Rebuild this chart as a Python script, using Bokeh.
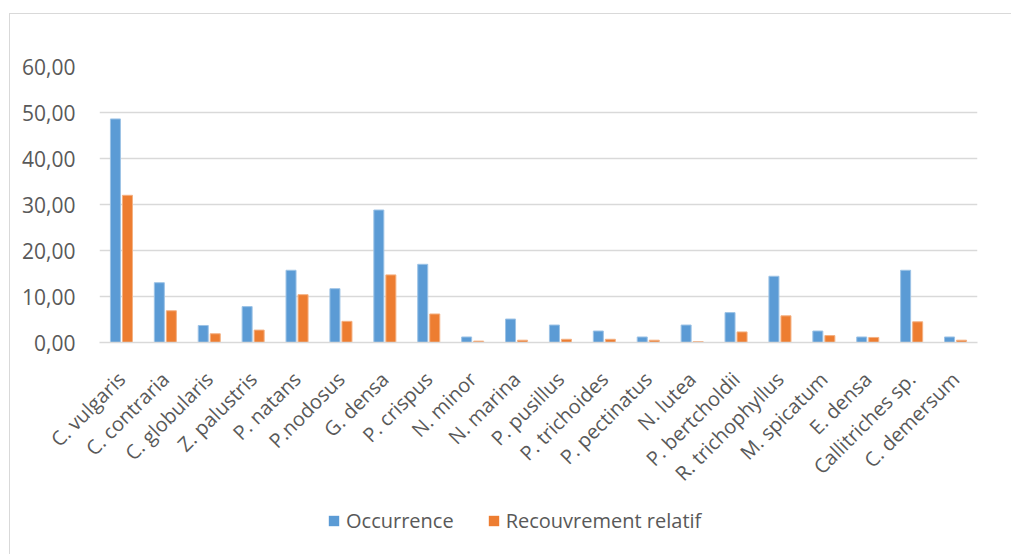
from bokeh.plotting import figure
from bokeh.models import FactorRange, Range1d, FixedTicker, Legend, LegendItem, ColumnDataSource
from bokeh.layouts import column
from bokeh.transform import dodge
from bokeh.embed import file_html
from bokeh.resources import INLINE
from math import pi

species = ["C. vulgaris", "C. contraria", "C. globularis", "Z. palustris", "P. natans",
           "P.nodosus", "G. densa", "P. crispus", "N. minor", "N. marina", "P. pusillus",
           "P. trichoides", "P. pectinatus", "N. lutea", "P. bertcholdii", "R. trichophyllus",
           "M. spicatum", "E. densa", "Callitriches sp.", "C. demersum"]
occurrence = [48.6, 13.0, 3.7, 7.8, 15.7, 11.7, 28.8, 17.0, 1.2, 5.1, 3.8, 2.5, 1.2, 3.8,
              6.5, 14.4, 2.5, 1.2, 15.7, 1.2]
recouvrement = [32.0, 6.9, 1.9, 2.7, 10.4, 4.6, 14.7, 6.2, 0.3, 0.5, 0.7, 0.7, 0.5, 0.2,
                2.3, 5.8, 1.5, 1.1, 4.5, 0.5]
series_names = ["Occurrence", "Recouvrement relatif"]
y_ticks = [0, 10, 20, 30, 40, 50, 60]
y_tick_labels = ["0,00", "10,00", "20,00", "30,00", "40,00", "50,00", "60,00"]

FONT = "Open Sans"
TXT = "#595959"
GRID = "#d9d9d9"
BLUE, BLUE_EDGE = "#5b9bd5", "#9dc3e6"
ORANGE, ORANGE_EDGE = "#ed7d31", "#f4b183"

p = figure(width=1001, height=485, x_range=FactorRange(*species, range_padding=0),
           y_range=Range1d(0, 60), output_backend="svg", toolbar_location=None,
           min_border_left=89, min_border_right=34, min_border_top=52, min_border_bottom=157)
p.outline_line_color = None

src = ColumnDataSource(dict(cat=species, occ=occurrence, rec=recouvrement))
p.vbar(x=dodge("cat", -0.137, range=p.x_range), top="occ", width=0.228, source=src,
       fill_color=BLUE, line_color=BLUE_EDGE, line_width=1)
p.vbar(x=dodge("cat", 0.137, range=p.x_range), top="rec", width=0.228, source=src,
       fill_color=ORANGE, line_color=ORANGE_EDGE, line_width=1)

p.xgrid.grid_line_color = None
p.ygrid.grid_line_color = GRID
p.ygrid.grid_line_width = 1.5
p.yaxis.ticker = FixedTicker(ticks=y_ticks)
p.yaxis.major_label_overrides = {t: l for t, l in zip(y_ticks, y_tick_labels)}
p.yaxis.axis_line_color = None
p.yaxis.major_tick_line_color = None
p.yaxis.minor_tick_line_color = None
p.yaxis.major_label_standoff = 18
p.yaxis.major_label_text_font = FONT
p.yaxis.major_label_text_font_size = "21px"
p.yaxis.major_label_text_color = TXT

p.xaxis.axis_line_color = GRID
p.xaxis.axis_line_width = 1.5
p.xaxis.major_tick_line_color = None
p.xaxis.minor_tick_line_color = None
p.xaxis.major_label_orientation = pi / 4
p.xaxis.major_label_standoff = 27
p.xaxis.major_label_text_font = FONT
p.xaxis.major_label_text_font_size = "20px"
p.xaxis.major_label_text_color = TXT

# legend strip: its bars lie far outside its value range, so only the legend shows
lf = figure(width=1001, height=55, x_range=FactorRange(*species), y_range=Range1d(500, 501),
            output_backend="svg", toolbar_location=None,
            min_border_left=0, min_border_right=0, min_border_top=0, min_border_bottom=0)
lf.axis.visible = False
lf.grid.visible = False
lf.outline_line_color = None
e1 = lf.vbar(x="cat", top="occ", width=0.2, source=src, fill_color=BLUE, line_color=None)
e2 = lf.vbar(x="cat", top="rec", width=0.2, source=src, fill_color=ORANGE, line_color=None)
legend = Legend(items=[LegendItem(label=series_names[0], renderers=[e1]),
                       LegendItem(label=series_names[1], renderers=[e2])],
                orientation="horizontal", location=(228, 20), padding=0, margin=0,
                spacing=33, label_standoff=6, glyph_width=13, glyph_height=13,
                label_text_font=FONT, label_text_font_size="20px", label_text_color=TXT,
                border_line_color=None, background_fill_alpha=0)
lf.add_layout(legend, "center")

page = column(p, lf, spacing=0)
page.margin = (13, 0, 0, 9)
page.styles = {"border-left": "1px solid #d9d9d9", "border-top": "1px solid #d9d9d9"}

open("out.html", "w").write(file_html(page, INLINE))
